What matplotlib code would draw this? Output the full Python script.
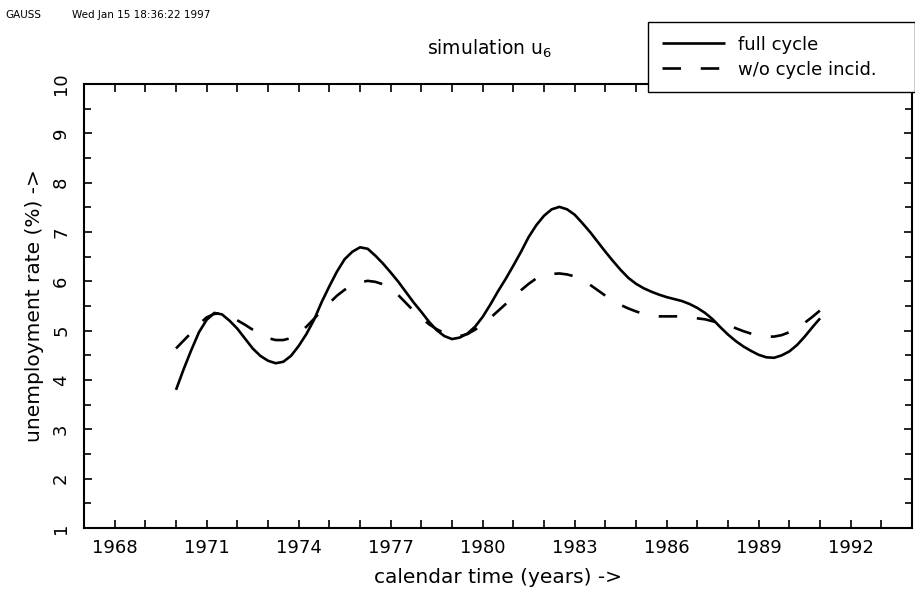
import numpy as np
import matplotlib
matplotlib.use("Agg")
import matplotlib.pyplot as plt
from matplotlib.ticker import MultipleLocator, FixedLocator

#######################
fontsize = 13
linewidth = 1.9
axiswidth = 1.5
#######################

# quarterly values, 1970.0 .. 1991.0
years = np.arange(1970.0, 1991.001, 0.25)
full_cycle = [3.80, 4.22, 4.61, 4.97,
              5.22, 5.36, 5.33, 5.20,
              5.04, 4.84, 4.64, 4.49,
              4.39, 4.34, 4.37, 4.49,
              4.69, 4.93, 5.22, 5.58,
              5.90, 6.20, 6.45, 6.60,
              6.69, 6.66, 6.52, 6.36,
              6.18, 5.99, 5.78, 5.57,
              5.38, 5.18, 5.01, 4.89,
              4.83, 4.86, 4.94, 5.08,
              5.28, 5.53, 5.80, 6.05,
              6.32, 6.60, 6.90, 7.14,
              7.33, 7.46, 7.51, 7.46,
              7.35, 7.18, 7.00, 6.80,
              6.60, 6.41, 6.23, 6.07,
              5.95, 5.86, 5.79, 5.73,
              5.68, 5.64, 5.60, 5.54,
              5.46, 5.36, 5.23, 5.07,
              4.92, 4.79, 4.68, 4.59,
              4.51, 4.46, 4.45, 4.50,
              4.58, 4.71, 4.88, 5.07,
              5.25]
wo_incid = [4.64, 4.80, 4.96, 5.13,
            5.27, 5.34, 5.35, 5.30,
            5.21, 5.12, 5.02, 4.92,
            4.85, 4.81, 4.81, 4.85,
            4.94, 5.08, 5.24, 5.41,
            5.56, 5.71, 5.83, 5.92,
            5.98, 6.01, 5.99, 5.94,
            5.85, 5.72, 5.56, 5.40,
            5.26, 5.13, 5.03, 4.95,
            4.90, 4.89, 4.93, 5.02,
            5.12, 5.26, 5.40, 5.54,
            5.67, 5.82, 5.95, 6.06,
            6.12, 6.15, 6.16, 6.14,
            6.10, 6.02, 5.93, 5.82,
            5.71, 5.61, 5.52, 5.45,
            5.39, 5.34, 5.31, 5.29,
            5.29, 5.29, 5.29, 5.27,
            5.25, 5.23, 5.19, 5.15,
            5.11, 5.05, 4.99, 4.94,
            4.90, 4.88, 4.88, 4.91,
            4.97, 5.05, 5.16, 5.28,
            5.41]
xtick_years = [1968, 1971, 1974, 1977, 1980, 1983, 1986, 1989, 1992]

fig = plt.figure(figsize=(9.15, 5.95), dpi=100)
ax = fig.add_axes([0.0918, 0.1126, 0.905, 0.7462])

ax.plot(years, full_cycle, color="black", linewidth=linewidth,
        label="full cycle", solid_capstyle="butt")
ax.plot(years, wo_incid, color="black", linewidth=linewidth,
        linestyle=(0, (7, 7.5)), label="w/o cycle incid.", dash_capstyle="butt")

ax.set_xlim(1967, 1994)
ax.set_ylim(1, 10)
ax.xaxis.set_major_locator(FixedLocator(xtick_years))
ax.xaxis.set_minor_locator(MultipleLocator(1))
ax.yaxis.set_major_locator(MultipleLocator(1))
ax.yaxis.set_minor_locator(MultipleLocator(0.5))
ax.tick_params(which="both", direction="in", top=True, right=True,
               width=1.2, labelsize=fontsize)
ax.tick_params(which="major", length=6)
ax.tick_params(which="minor", length=6)
ax.tick_params(axis="y", which="minor", length=5)
ax.tick_params(axis="x", pad=8)
ax.tick_params(axis="y", pad=10)
for lab in ax.get_yticklabels():
    lab.set_rotation(90)
    lab.set_va("center")
for s in ax.spines.values():
    s.set_linewidth(axiswidth)

ax.set_xlabel("calendar time (years) ->", fontsize=14.5, labelpad=8)
ax.set_ylabel("unemployment rate (%) ->", fontsize=14.5, labelpad=6)
fig.text(0.5355, 0.918, "simulation u$_6$", fontsize=13.5, ha="center", va="center")
fig.text(0.006, 0.975, "GAUSS", fontsize=7.5, ha="left", va="center")
fig.text(0.079, 0.975, "Wed Jan 15 18:36:22 1997", fontsize=7.5,
         ha="left", va="center")

leg = fig.legend(loc="upper left",
                 bbox_to_anchor=(648 / 915, 1 - 91 / 595, 267 / 915, 69 / 595),
                 mode="expand", fancybox=False, edgecolor="black", framealpha=1,
                 fontsize=13, handlelength=3.5, handletextpad=0.75,
                 borderpad=0.75, labelspacing=0.4, borderaxespad=0)
leg.get_frame().set_linewidth(1.0)

plt.savefig("out.png", dpi=100)
